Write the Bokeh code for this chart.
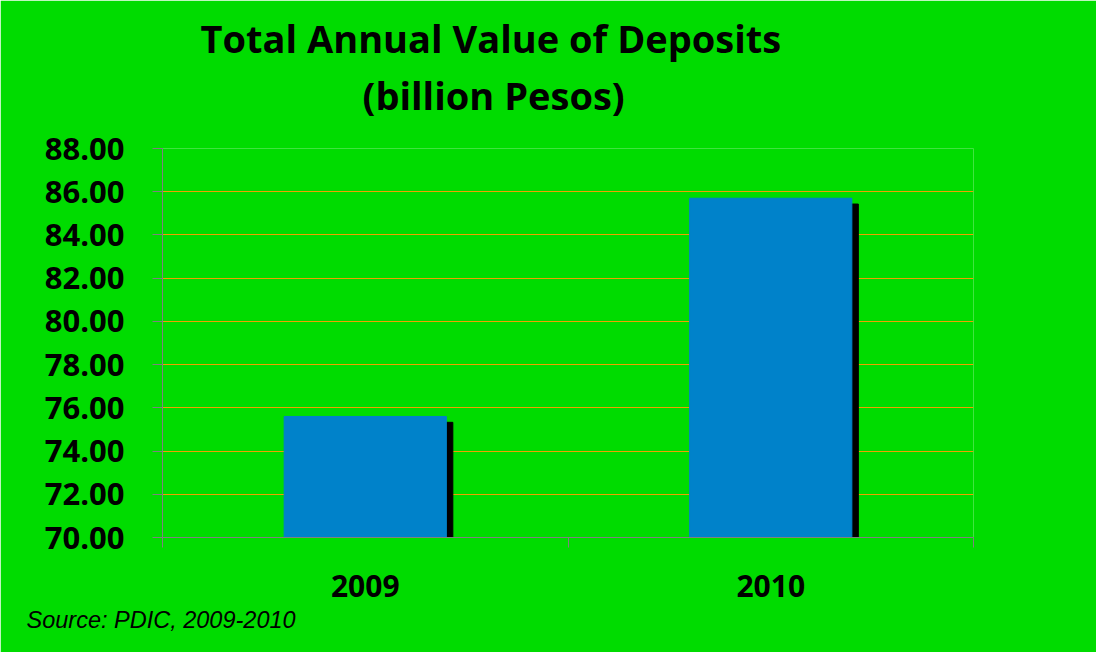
from bokeh.plotting import figure
from bokeh.models import (Range1d, FixedTicker, Title, ColumnDataSource,
                          NumeralTickFormatter)
from bokeh.embed import file_html
from bokeh.resources import INLINE

years = ["2009", "2010"]
deposits = [75.6, 85.7]
y_ticks = [70, 72, 74, 76, 78, 80, 82, 84, 86, 88]
title_lines = ["Total Annual Value of Deposits", "(billion Pesos)"]
source_note = "Source: PDIC, 2009-2010"

GREEN = "#00DC00"
BLUE = "#0082CA"
FONT = "Open Sans"

xpos = [i + 0.5 for i in range(len(years))]
src = ColumnDataSource(dict(x=xpos, top=deposits,
                            sx=[x + 0.016 for x in xpos],
                            stop=[v - 0.27 for v in deposits]))

p = figure(width=1096, height=652, output_backend="svg", toolbar_location=None,
           x_range=Range1d(0, len(years)), y_range=Range1d(70, 88),
           min_border_left=162, min_border_top=148, min_border_right=123,
           min_border_bottom=115)
p.background_fill_color = GREEN
p.border_fill_color = GREEN
p.outline_line_color = None

xa = p.below[0]
ya = p.left[0]

# shadow then bar
p.vbar(x="sx", top="stop", bottom=70, width=0.4, source=src, color="black")
p.vbar(x="x", top="top", bottom=70, width=0.4, source=src, color=BLUE)

# title: two lines, each placed by its own offset
def style_title(t):
    t.align = "left"
    t.text_font = FONT
    t.text_font_size = "38px"
    t.text_font_style = "bold"
    t.text_color = "black"

p.title.text = title_lines[0]
style_title(p.title)
p.title.offset = 38
p.title.standoff = 6
t2 = Title(text=title_lines[1])
style_title(t2)
t2.offset = 200
t2.standoff = 0
t2.padding = (0, 0, 0, 28)
p.add_layout(t2, "above")

# y axis
ya.ticker = FixedTicker(ticks=y_ticks)
ya.formatter = NumeralTickFormatter(format="0.00")
ya.axis_line_color = "#808080"
ya.major_tick_line_color = "#808080"
ya.major_tick_out = 10
ya.major_tick_in = 0
ya.minor_tick_line_color = None
ya.major_label_text_font = FONT
ya.major_label_text_font_size = "31px"
ya.major_label_text_font_style = "bold"
ya.major_label_text_color = "black"
ya.major_label_standoff = 28

# x axis: labels at centres, separator ticks as minor ticks
xa.ticker = FixedTicker(ticks=xpos, minor_ticks=list(range(len(years) + 1)))
xa.major_label_overrides = {x: y for x, y in zip(xpos, years)}
xa.axis_line_color = "#808080"
xa.major_tick_line_color = None
xa.minor_tick_line_color = "#808080"
xa.minor_tick_out = 10
xa.minor_tick_in = 0
xa.major_label_text_font = FONT
xa.major_label_text_font_size = "30px"
xa.major_label_text_font_style = "bold"
xa.major_label_text_color = "black"
xa.major_label_standoff = 27

# grid
p.xgrid.grid_line_color = None
p.ygrid.ticker = FixedTicker(ticks=y_ticks)
p.ygrid.grid_line_color = "#F0A000"
p.ygrid.grid_line_width = 1

src_title = Title(text=source_note, align="left",
                  text_font="Liberation Sans", text_font_style="italic",
                  text_font_size="23.5px", text_color="black", offset=-136,
                  standoff=11)
p.add_layout(src_title, "below")

open("out.html", "w").write(file_html(p, INLINE))
